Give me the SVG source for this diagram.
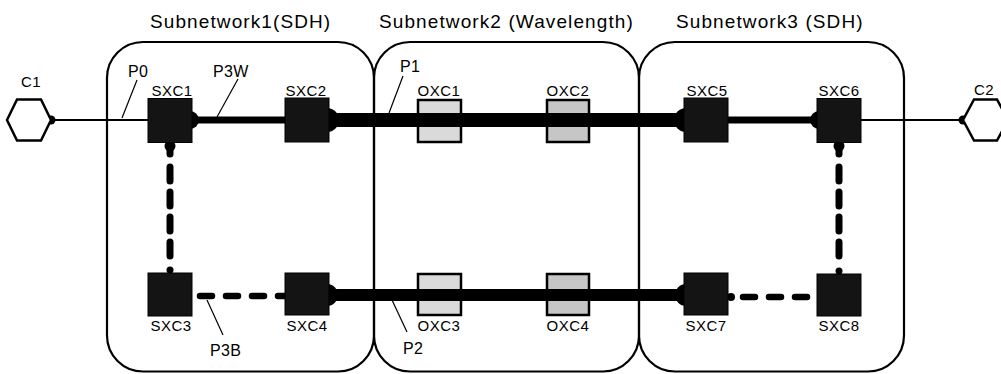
<svg xmlns="http://www.w3.org/2000/svg" width="1001" height="374" viewBox="0 0 1001 374">
  <style>
    text { font-family: "Liberation Sans", Arial, sans-serif; fill: #000; }
    .title { font-size: 19px; letter-spacing: 1.1px; }
    .lbl { font-size: 15px; letter-spacing: 0.5px; text-anchor: middle; }
    .plbl { font-size: 16px; letter-spacing: 0.3px; }
    .subnet { fill: none; stroke: #000; stroke-width: 2.2; }
    .sxc { fill: #141414; stroke: #000; stroke-width: 1; }
    .oxc { stroke: #000; stroke-width: 2.5; }
    .thin { stroke: #000; stroke-width: 2; fill: none; }
    .mid { stroke: #000; stroke-width: 7; fill: none; }
    .thick { stroke: #000; stroke-width: 14; fill: none; }
    .thickb { stroke: #000; stroke-width: 12; fill: none; }
    .dash { stroke: #000; stroke-width: 7; fill: none; stroke-linecap: round; }
    .dashv { stroke-dasharray: 14 11; }
    .dashh { stroke-dasharray: 12 14; stroke-width: 6.5; }
    .leader { stroke: #000; stroke-width: 1.2; fill: none; }
    .port { fill: #000; }
    .client { fill: #fff; stroke: #000; stroke-width: 2.5; }
  </style>

  <!-- subnetwork domains -->
  <g id="subnetworks">
    <rect class="subnet" x="107" y="42" width="267" height="329.5" rx="36" ry="36"/>
    <rect class="subnet" x="374" y="42" width="265" height="329.5" rx="36" ry="36"/>
    <rect class="subnet" x="639" y="42" width="265" height="329.5" rx="36" ry="36"/>
    <text class="title" x="150" y="28">Subnetwork1(SDH)</text>
    <text class="title" x="379" y="28">Subnetwork2 (Wavelength)</text>
    <text class="title" x="676" y="28">Subnetwork3 (SDH)</text>
  </g>

  <!-- connectors -->
  <g id="connectors">
    <!-- P0: C1 to SXC1 -->
    <line class="thin" x1="50" y1="120" x2="150" y2="120"/>
    <!-- P3W: working path SXC1 - SXC2 -->
    <line class="mid" x1="190" y1="120" x2="290" y2="120"/>
    <!-- P1: SXC2 - SXC5 through OXC1, OXC2 -->
    <line class="thick" x1="326" y1="120" x2="688" y2="120"/>
    <!-- SXC5 - SXC6 -->
    <line class="mid" x1="726" y1="120" x2="822" y2="120"/>
    <!-- SXC6 to C2 -->
    <line class="thin" x1="858" y1="120" x2="963" y2="120"/>
    <!-- P2: SXC4 - SXC7 through OXC3, OXC4 -->
    <line class="thickb" x1="326" y1="295" x2="688" y2="295"/>

    <!-- P3B: backup path (dashed) -->
    <line class="dash" x1="170" y1="143" x2="170" y2="154"/>
    <line class="dash dashv" x1="170" y1="167" x2="170" y2="262"/>
    <line class="dash dashh" x1="200" y1="296" x2="290" y2="296"/>
    <line class="dash dashh" x1="743" y1="297" x2="815" y2="297"/>
    <line class="dash" x1="839" y1="142" x2="839" y2="154"/>
    <line class="dash dashv" x1="839" y1="167" x2="839" y2="262"/>

    <!-- ports -->
    <circle class="port" cx="51" cy="120" r="4.5"/>
    <circle class="port" cx="963" cy="120" r="4.5"/>
    <circle class="port" cx="190" cy="120" r="9"/>
    <circle class="port" cx="327" cy="120" r="12"/>
    <circle class="port" cx="686" cy="120" r="12"/>
    <circle class="port" cx="819" cy="120" r="9"/>
    <circle class="port" cx="170" cy="146" r="5.5"/>
    <circle class="port" cx="839" cy="146" r="5.5"/>
    <circle class="port" cx="170" cy="270" r="3.5"/>
    <circle class="port" cx="839" cy="271" r="3.5"/>
    <circle class="port" cx="327" cy="295" r="11"/>
    <circle class="port" cx="686" cy="295" r="11"/>
    <circle class="port" cx="731" cy="297" r="4"/>

    <!-- path labels and leaders -->
    <line class="leader" x1="137" y1="80" x2="122" y2="118"/>
    <text class="plbl" x="128" y="77">P0</text>
    <line class="leader" x1="238" y1="79" x2="217" y2="117"/>
    <text class="plbl" x="213" y="77">P3W</text>
    <line class="leader" x1="403" y1="76" x2="389" y2="113"/>
    <text class="plbl" x="400" y="72">P1</text>
    <line class="leader" x1="207" y1="300" x2="223" y2="335"/>
    <text class="plbl" x="210" y="356">P3B</text>
    <line class="leader" x1="392" y1="300" x2="407" y2="332"/>
    <text class="plbl" x="403" y="354">P2</text>
  </g>

  <!-- client nodes -->
  <g id="C1">
    <polygon class="client" points="7,120 17,99.5 41,99.5 51,120 41,140.5 17,140.5"/>
    <text class="lbl" x="31" y="87">C1</text>
  </g>
  <g id="C2">
    <polygon class="client" points="963,120 974,99.5 997,99.5 1008,120 997,140.5 974,140.5"/>
    <text class="lbl" x="984" y="95">C2</text>
  </g>

  <!-- SDH cross-connects, subnetwork 1 -->
  <g id="SXC1">
    <rect class="sxc" x="148" y="98.5" width="44" height="44"/>
    <text class="lbl" x="172" y="96">SXC1</text>
  </g>
  <g id="SXC2">
    <rect class="sxc" x="285" y="98" width="44" height="44"/>
    <text class="lbl" x="306" y="96">SXC2</text>
  </g>
  <g id="SXC3">
    <rect class="sxc" x="148" y="273" width="44" height="43"/>
    <text class="lbl" x="171" y="331">SXC3</text>
  </g>
  <g id="SXC4">
    <rect class="sxc" x="285" y="273" width="44" height="42"/>
    <text class="lbl" x="307" y="331">SXC4</text>
  </g>

  <!-- optical cross-connects, subnetwork 2 -->
  <g id="OXC1">
    <rect class="oxc" x="418" y="100" width="43" height="42" fill="#dadada"/>
    <line class="thick" x1="416" y1="120" x2="463" y2="120"/>
    <text class="lbl" x="439" y="96">OXC1</text>
  </g>
  <g id="OXC2">
    <rect class="oxc" x="547" y="100" width="42" height="42" fill="#c6c6c6"/>
    <line class="thick" x1="545" y1="120" x2="591" y2="120"/>
    <text class="lbl" x="568" y="96">OXC2</text>
  </g>
  <g id="OXC3">
    <rect class="oxc" x="418" y="274" width="43" height="41" fill="#dadada"/>
    <line class="thickb" x1="416" y1="295" x2="463" y2="295"/>
    <text class="lbl" x="439" y="331">OXC3</text>
  </g>
  <g id="OXC4">
    <rect class="oxc" x="547" y="274" width="42" height="41" fill="#c6c6c6"/>
    <line class="thickb" x1="545" y1="295" x2="591" y2="295"/>
    <text class="lbl" x="568" y="331">OXC4</text>
  </g>

  <!-- SDH cross-connects, subnetwork 3 -->
  <g id="SXC5">
    <rect class="sxc" x="684" y="98" width="44" height="44"/>
    <text class="lbl" x="707" y="96">SXC5</text>
  </g>
  <g id="SXC6">
    <rect class="sxc" x="817" y="98.5" width="44" height="44"/>
    <text class="lbl" x="839" y="96">SXC6</text>
  </g>
  <g id="SXC7">
    <rect class="sxc" x="684" y="273" width="44" height="42"/>
    <text class="lbl" x="706" y="331">SXC7</text>
  </g>
  <g id="SXC8">
    <rect class="sxc" x="817" y="274" width="44" height="42"/>
    <text class="lbl" x="839" y="331">SXC8</text>
  </g>
</svg>
